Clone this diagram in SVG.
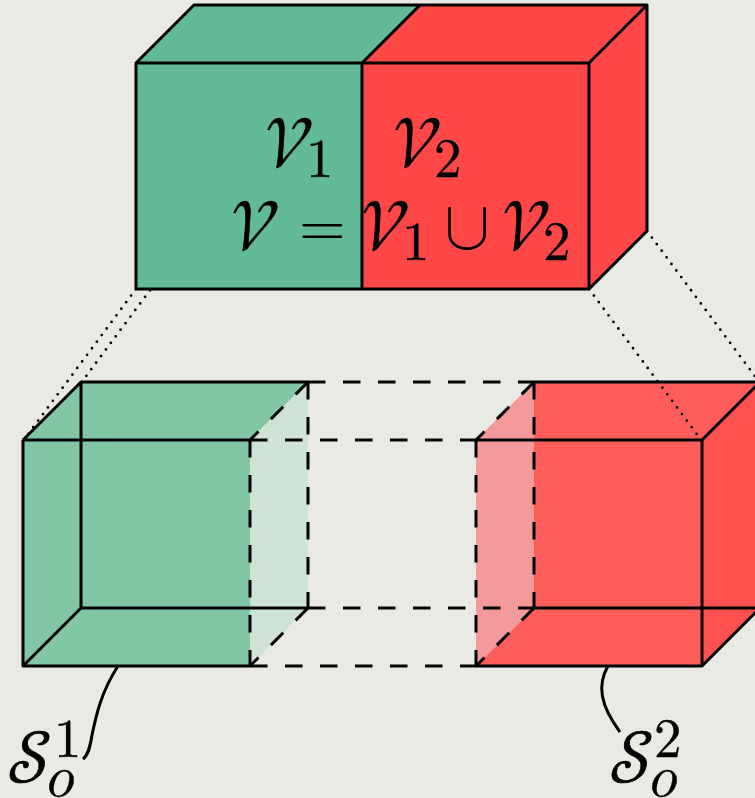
<svg xmlns="http://www.w3.org/2000/svg" width="755" height="798" viewBox="0 0 755 798">
<style>
.s{fill:none;stroke:#000;stroke-width:3;stroke-linejoin:round;stroke-linecap:butt}
.d{stroke-dasharray:17.5 17.5}
.t{fill:none;stroke:#000;stroke-width:2.8;stroke-linecap:round;stroke-dasharray:0 8.2}
.c{font-family:math;font-size:69px;fill:#000;stroke:#000;stroke-width:.7}
.b{font-family:math;font-size:72px;fill:#000;stroke:#000;stroke-width:.7}
.e{font-family:math;font-size:60px;fill:#000}
.u{font-family:math;font-size:69px;fill:#000}
.n{font-family:math;font-size:55px;fill:#000;stroke:#000;stroke-width:.4}
.o{font-family:math;font-size:57px;fill:#000;stroke:#000;stroke-width:.4}
</style>
<rect width="755" height="798" fill="#e9eae4"/>
<g id="dotted-behind">
<path class="t" d="M136,289L23,441M194,231L81,383"/>
</g>
<g id="lower-left-cube">
<path d="M23,440L81,382H308L250,440V666H23Z" fill="#82c6a6"/>
<path d="M250,440L308,382V608L250,666Z" fill="#cfe2d6"/>
</g>
<g id="lower-right-cube">
<path d="M476,440L534,382V608L476,666Z" fill="#f59a9a"/>
<path d="M534,382H760V608L702,666H476L534,608Z" fill="#ff5c5c"/>
<path d="M702,440L760,382V608L702,666Z" fill="#ff5050"/>
</g>
<g id="connectors">
<path class="t" d="M589,289L702,441M647,231L760,383"/>
<path class="s" d="M118,666C101,692 96,716 92,735C90,748 88,755 83,759"/>
<path class="s" d="M608,666C597,685 600,705 620,732"/>
</g>
<g id="lower-lines">
<path class="s" d="M23,440H250M23,440V666H250M23,666L81,608H308M81,382V608M23,440L81,382H308"/>
<path class="s" d="M476,440H702V666H476M702,440L760,382M702,666L760,608M534,382H760M534,608H760"/>
<path class="s d" d="M250,440H476M250,666H476M308,382H534M308,608H534"/>
<path class="s d" d="M250,440V666M308,382V608M476,440V666M534,382V608"/>
<path class="s d" d="M308,382L250,440M308,608L250,666M534,382L476,440M534,608L476,666"/>
</g>
<g id="top-cube">
<path d="M136,63L194,5H420L362,63V289H136Z" fill="#62bb96"/>
<path d="M362,63L420,5H647V231L589,289H362Z" fill="#ff4747"/>
<path class="s" d="M136,63H589V289H136ZM362,63V289M136,63L194,5H647L589,63M647,5V231L589,289M362,63L420,5"/>
</g>
<g id="top-labels">
<text class="c" x="265" y="167">𝒱</text><text class="n" x="306" y="177">1</text>
<text class="c" x="393" y="167">𝒱</text><text class="n" x="434" y="177">2</text>
<text class="c" x="231" y="250">𝒱</text><text class="e" x="299" y="246">=</text>
<text class="c" x="361" y="250">𝒱</text><text class="n" x="402" y="260">1</text>
<text class="u" x="444" y="249">∪</text>
<text class="c" x="502" y="250">𝒱</text><text class="n" x="543" y="260">2</text>
</g>
<g id="s1"><text class="b" x="7" y="782">𝒮</text><text class="n" x="54" y="757">1</text><text class="o" x="47" y="795.5">𝑜</text></g>
<g id="s2"><text class="b" x="609" y="782">𝒮</text><text class="n" x="654" y="757">2</text><text class="o" x="650" y="795.5">𝑜</text></g>
</svg>
